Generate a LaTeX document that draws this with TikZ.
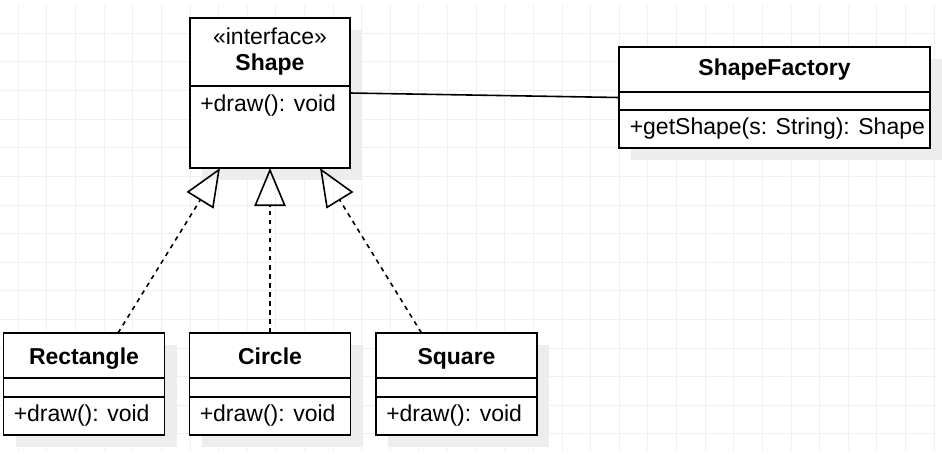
\documentclass[tikz,border=0pt]{standalone}
\usepackage{fontspec}
\setmainfont{Liberation Sans}
\usetikzlibrary{arrows.meta, shadows, calc}
\tikzstyle{realize} = [line width=1.2pt, dash pattern=on 3.4pt off 3.4pt, -{Triangle[open,length=28.5pt,width=23.5pt,line width=1.2pt]}]
\tikzstyle{assoc} = [line width=1.2pt]

\begin{document}
\begin{tikzpicture}[x=0.75pt, y=-0.75pt]
   \tikzset{class/.style={draw, line width=1.3pt, fill=white, rectangle, inner sep=0pt, outer sep=0pt,
      drop shadow={shadow xshift=9pt, shadow yshift=-9pt, fill=black!7, opacity=1}},
   txt/.style={inner sep=0pt, anchor=base, font=\fontsize{17.25}{20}\selectfont},
   classname/.style={txt, font=\fontsize{17.25}{20}\selectfont\bfseries},
   member/.style={txt, anchor=base west},
   divider/.style={line width=1.3pt},
   gridline/.style={draw=black!6, line width=0.75pt}
   }

 \fill[white] (0,0) rectangle (942,462);
 \useasboundingbox (0,0) rectangle (942,462);
 % background grid
 \foreach \i in {0,...,32}
   \draw[gridline] ({18.3+28.62*\i},5) -- ({18.3+28.62*\i},451);
 \foreach \j in {0,...,14}
   \draw[gridline] (0,{33.3+28.62*\j}) -- (936,{33.3+28.62*\j});

 \node[class, minimum width=120pt, minimum height=112.5pt] (shape) at (270,93) {};
 \node[class, minimum width=233.25pt, minimum height=75.75pt] (factory) at (774.5,97.5) {};
 \node[class, minimum width=120.75pt, minimum height=76.5pt] (rect) at (84,384) {};
 \node[class, minimum width=120.75pt, minimum height=76.5pt] (circ) at (270,384) {};
 \node[class, minimum width=120.75pt, minimum height=76.5pt] (sq) at (456.5,384) {};

 \draw[divider] ($(shape.north west)+(0,68)$) -- ++(160,0);
 \draw[divider] ($(factory.north west)+(0,45)$) -- ++(311,0);
 \draw[divider] ($(factory.north west)+(0,63)$) -- ++(311,0);
 \foreach \b in {rect, circ, sq} {
   \draw[divider] ($(\b.north west)+(0,45)$) -- ++(161,0);
   \draw[divider] ($(\b.north west)+(0,64)$) -- ++(161,0);
 }

 \node[txt] (stereo) at (270,44) {«interface»};
 \node[classname] (shapeName) at (270,70.5) {Shape};
 \node[member] (shapeDraw) at (200,111) {+draw(): void};
 \node[classname] (factoryName) at (774.5,75) {ShapeFactory};
 \node[member] (getShape) at (629.5,134.5) {+getShape(s: String): Shape};

 \node[classname] (rectName) at (84,364) {Rectangle};
 \node[member] (rectDraw) at (13.5,421) {+draw(): void};
 \node[classname] (circName) at (270,364) {Circle};
 \node[member] (circDraw) at (199.5,421) {+draw(): void};
 \node[classname] (sqName) at (456.5,364) {Square};
 \node[member] (sqDraw) at (386,421) {+draw(): void};

 \draw [assoc] (shape.east) -- (factory.west);
 \draw [realize] ([xshift=25.5pt]rect.north) -- ([xshift=-37.5pt]shape.south);
 \draw [realize] (circ.north) -- (shape.south);
 \draw [realize] ([xshift=-26.25pt]sq.north) -- ([xshift=37.5pt]shape.south);
\end{tikzpicture}
\end{document}
